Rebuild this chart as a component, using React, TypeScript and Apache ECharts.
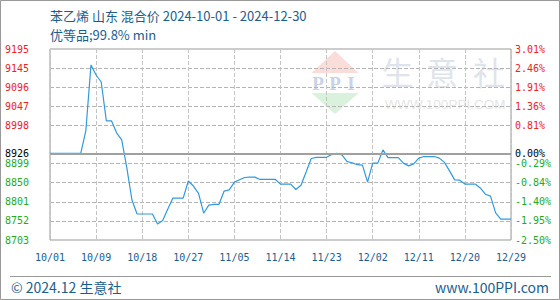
import React, { useEffect, useRef } from "react";
import * as echarts from "echarts";

const TITLE = "苯乙烯 山东 混合价 2024-10-01 - 2024-12-30";
const SUBTITLE = "优等品;99.8% min";
const BASE = 8926;
const Y_MIN = 8703;
const Y_MAX = 9195;
const Y_TICKS = [8703, 8752.2, 8801.4, 8850.6, 8899.8, 8926, 8998.2, 9047.4, 9096.6, 9145.8, 9195];
const X_TICKS = ["10/01", "10/09", "10/18", "10/27", "11/05", "11/14", "11/23", "12/02", "12/11", "12/20", "12/29"];

const VALUES = [
  8926, 8926, 8926, 8926, 8926, 8926, 8926, 8985, 9154, 9128,
  9110, 9010, 9010, 8979, 8961, 8889, 8806, 8770, 8770, 8770,
  8770, 8744, 8753, 8783, 8811, 8811, 8811, 8855, 8842, 8823,
  8772, 8793, 8795, 8795, 8829, 8832, 8852, 8858, 8864, 8865,
  8865, 8859, 8859, 8859, 8859, 8847, 8847, 8847, 8833, 8844,
  8878, 8913, 8916, 8916, 8916, 8923, 8926, 8922, 8905, 8902,
  8897, 8896, 8852, 8901, 8901, 8935, 8915, 8915, 8915, 8901,
  8894, 8899, 8914, 8918, 8918, 8918, 8914, 8903, 8881, 8858,
  8857, 8847, 8847, 8847, 8837, 8821, 8816, 8773, 8757, 8757,
  8757,
];

const DATES: string[] = VALUES.map((_, i) => {
  const d = new Date(2024, 9, 1 + i);
  const m = String(d.getMonth() + 1).padStart(2, "0");
  const day = String(d.getDate()).padStart(2, "0");
  return `${m}/${day}`;
});

const RED = "#ee2222";
const GREEN = "#22aa22";
const BLUE_TEXT = "#1b5e8e";
const MONO = "DejaVu Sans Mono";
const CJK = "Noto Sans CJK SC";

const labelColor = (v: any) => {
  const n = Number(v);
  if (Math.abs(n - BASE) < 1e-6) return "#000000";
  return n > BASE ? RED : GREEN;
};

export default function App() {
  const ref = useRef<HTMLDivElement>(null);
  useEffect(() => {
    if (!ref.current) return;
    const chart = echarts.init(ref.current, null, { renderer: "svg" });
    const gridTicks = Y_TICKS.filter((v) => v !== BASE && v !== Y_MIN && v !== Y_MAX);
    chart.setOption({
      animation: false,
      grid: { left: 50, right: 49, top: 49, bottom: 60, show: true, borderColor: "#999", borderWidth: 1 },
      xAxis: {
        type: "category",
        data: DATES,
        boundaryGap: false,
        axisLine: { show: false },
        axisTick: { show: false },
        axisLabel: {
          interval: 8,
          margin: 12,
          color: BLUE_TEXT,
          fontFamily: MONO,
          fontSize: 10,
          formatter: (_v: string, idx: number) => X_TICKS[Math.round(idx / 9)] ?? "",
        },
        splitLine: { show: true, interval: 8, lineStyle: { color: "#c4c4c4", type: "dashed", width: 1 } },
      },
      yAxis: [
        {
          type: "value",
          min: Y_MIN,
          max: Y_MAX,
          axisLine: { show: false },
          axisTick: { show: false, customValues: gridTicks },
          splitLine: { show: true, lineStyle: { color: "#b4b4b4", type: "dashed", width: 1 } },
          axisLabel: {
            customValues: Y_TICKS,
            margin: 21,
            fontFamily: MONO,
            fontSize: 10,
            color: labelColor,
            formatter: (v: number) => String(Math.floor(v + 1e-9)),
          },
        },
        {
          type: "value",
          min: Y_MIN,
          max: Y_MAX,
          position: "right",
          axisLine: { show: false },
          axisTick: { show: false },
          splitLine: { show: false },
          axisLabel: {
            customValues: Y_TICKS,
            margin: 4,
            fontFamily: MONO,
            fontSize: 10,
            color: labelColor,
            formatter: (v: number) => (((v - BASE) / BASE) * 100).toFixed(2) + "%",
          },
        },
      ],
      series: [
        {
          type: "line",
          data: VALUES,
          symbol: "none",
          lineStyle: { color: "#3399dd", width: 1.2 },
          z: 3,
          markLine: {
            silent: true,
            symbol: ["none", "none"],
            label: { show: false },
            animation: false,
            data: [{ yAxis: BASE, lineStyle: { color: "#a0a0a0", type: "solid", width: 2 } }],
          },
        },
      ],
      graphic: [
        { type: "rect", shape: { x: 0.5, y: 0.5, width: 559, height: 299 }, style: { fill: "none", stroke: "#999", lineWidth: 1 }, silent: true },
        { type: "text", x: 50, y: 15, style: { text: TITLE, fill: BLUE_TEXT, font: `13px '${CJK}'`, textVerticalAlign: "middle" } },
        { type: "text", x: 50, y: 34, style: { text: SUBTITLE, fill: BLUE_TEXT, font: `13px '${CJK}'`, textVerticalAlign: "middle" } },
        // watermark
        { type: "polygon", z: -10, silent: true, shape: { points: [[335, 51], [311.5, 73], [358.5, 73]] }, style: { fill: "#fadcd8" } },
        { type: "polygon", z: -10, silent: true, shape: { points: [[311.5, 93], [358.5, 93], [335, 114]] }, style: { fill: "#daf1de" } },
        { type: "text", z: -10, silent: true, x: 318, y: 83.5, style: { text: "P", fill: "#c9d3e7", font: "bold 19px 'Liberation Serif'", textAlign: "center", textVerticalAlign: "middle" } },
        { type: "text", z: -10, silent: true, x: 335, y: 83.5, style: { text: "P", fill: "#c9d3e7", font: "bold 19px 'Liberation Serif'", textAlign: "center", textVerticalAlign: "middle" } },
        { type: "text", z: -10, silent: true, x: 351, y: 83.5, style: { text: "I", fill: "#c9d3e7", font: "bold 19px 'Liberation Serif'", textAlign: "center", textVerticalAlign: "middle" } },
        { type: "text", z: -10, silent: true, x: 397.5, y: 71, style: { text: "生", fill: "#dfe4ec", font: `32px '${CJK}'`, textAlign: "center", textVerticalAlign: "middle" } },
        { type: "text", z: -10, silent: true, x: 442, y: 71, style: { text: "意", fill: "#dfe4ec", font: `32px '${CJK}'`, textAlign: "center", textVerticalAlign: "middle" } },
        { type: "text", z: -10, silent: true, x: 489, y: 71, style: { text: "社", fill: "#dfe4ec", font: `32px '${CJK}'`, textAlign: "center", textVerticalAlign: "middle" } },
        { type: "text", z: -10, silent: true, x: 445, y: 104, style: { text: "WWW.100PPI.COM", fill: "#e6e6e6", font: "13.5px 'Liberation Sans'", textAlign: "center", textVerticalAlign: "middle" } },
        // footer
        { type: "line", shape: { x1: 10, y1: 276.5, x2: 551, y2: 276.5 }, style: { stroke: "#999", lineWidth: 1 }, silent: true },
        { type: "text", x: 11, y: 287, style: { text: "© 2024.12 生意社", fill: BLUE_TEXT, font: `14px '${CJK}'`, textVerticalAlign: "middle" } },
        { type: "text", x: 549, y: 287, style: { text: "www.100PPI.com", fill: BLUE_TEXT, font: `14px '${CJK}'`, textAlign: "right", textVerticalAlign: "middle" } },
      ],
    });
    return () => chart.dispose();
  }, []);
  return <div ref={ref} style={{ position: "absolute", left: 0, top: 0, width: 560, height: 300, background: "#fff" }} />;
}
